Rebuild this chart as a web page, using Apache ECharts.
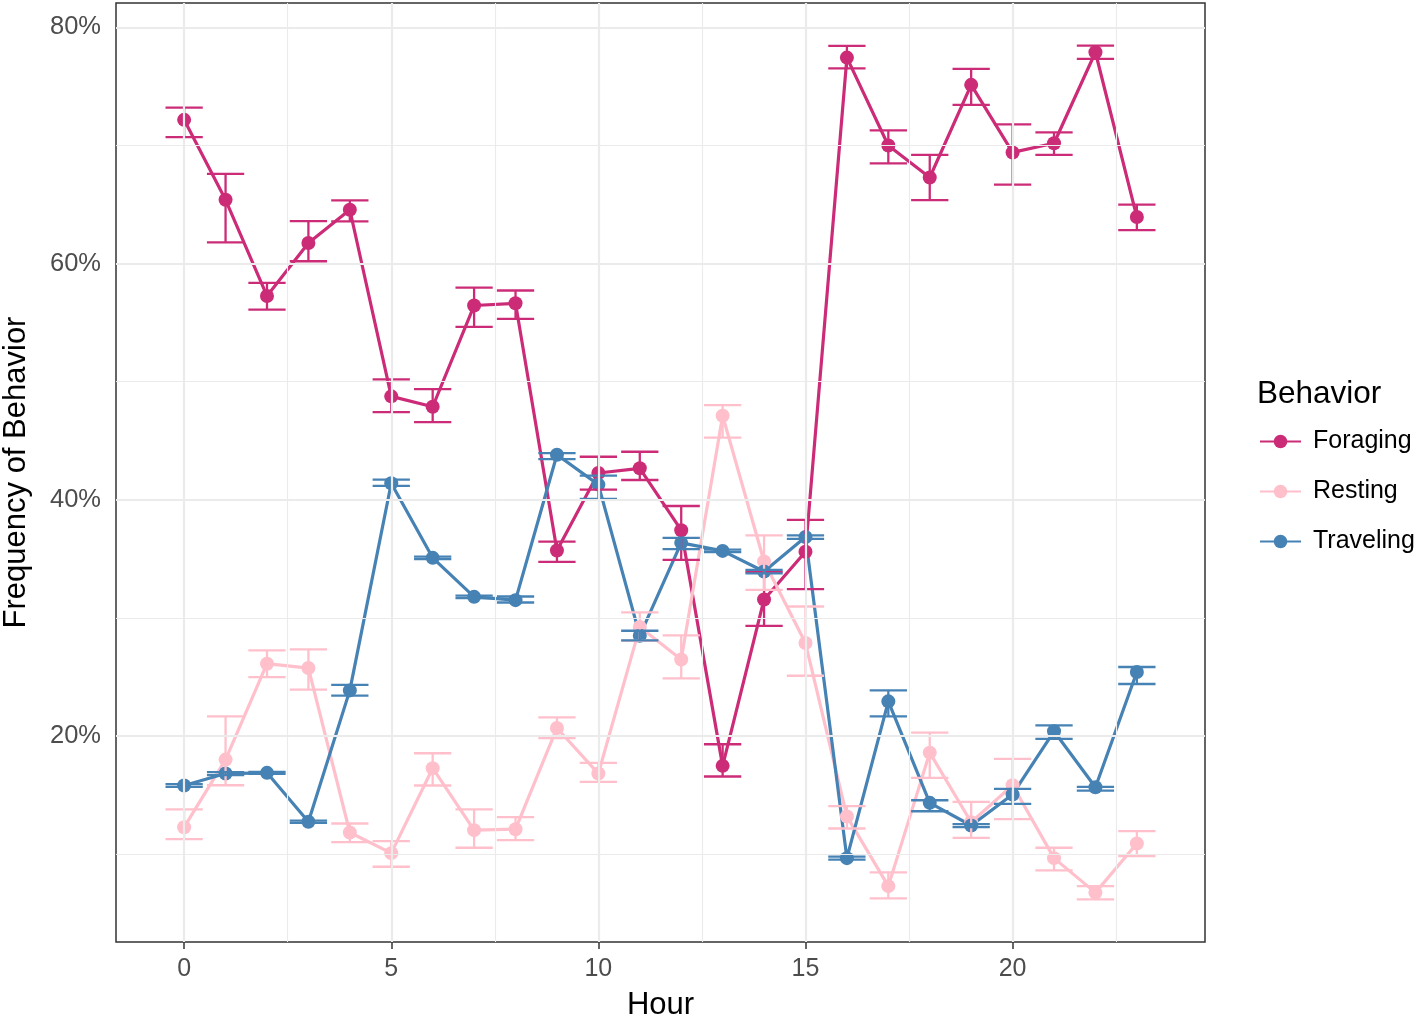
<!DOCTYPE html>
<html>
<head>
<meta charset="utf-8">
<script src="https://cdn.jsdelivr.net/npm/echarts@6/dist/echarts.min.js"></script>
<style>
html,body{margin:0;padding:0;background:#fff;}
#chart{width:1418px;height:1016px;}
</style>
</head>
<body>
<div id="chart"></div>
<script>
const hours = [0,1,2,3,4,5,6,7,8,9,10,11,12,13,14,15,16,17,18,19,20,21,22,23];

const foraging     = [72.17,65.40,57.26,61.74,64.56,48.76,47.88,56.45,56.64,35.71,42.27,42.67,37.43,17.48,31.57,35.60,77.44,70.00,67.29,75.13,69.41,70.19,77.89,63.94];
const foragingLow  = [70.70,61.80,56.10,60.20,63.57,47.43,46.58,54.64,55.32,34.75,40.86,41.68,34.92,16.58,29.33,32.44,76.53,68.48,65.38,73.44,66.68,69.21,77.33,62.84];
const foragingHigh = [73.20,67.60,58.36,63.60,65.35,50.19,49.37,57.97,57.72,36.47,43.65,44.07,39.48,19.31,33.90,38.30,78.43,71.27,69.21,76.48,71.78,71.10,78.45,64.99];

const resting      = [12.29,18.01,26.13,25.76,11.84,10.09,17.28,12.04,12.12,20.69,16.83,29.23,26.49,47.12,34.78,27.88,13.20,7.30,18.60,12.71,15.84,9.67,6.75,10.91];
const restingLow   = [11.28,15.84,25.00,23.93,11.02,8.94,15.82,10.55,11.19,19.84,16.13,28.07,24.89,45.26,32.38,25.11,12.18,6.26,16.47,11.39,12.97,8.63,6.18,9.84];
const restingHigh  = [13.79,21.67,27.25,27.34,12.60,11.11,18.55,13.79,13.14,21.59,17.73,30.47,28.52,48.02,37.00,30.97,14.07,8.46,20.30,14.44,18.07,10.55,7.30,11.95];

const traveling     = [15.82,16.83,16.89,12.75,23.87,41.40,35.09,31.79,31.51,43.82,41.29,28.50,36.36,35.68,33.93,36.86,9.67,22.94,14.35,12.43,15.06,20.41,15.67,25.43];
const travelingLow  = [15.70,16.70,16.80,12.65,23.42,41.18,34.98,31.68,31.31,43.45,40.08,28.10,35.82,35.57,33.78,36.70,9.55,21.67,13.64,12.30,14.27,19.76,15.39,24.41];
const travelingHigh = [15.94,16.95,16.98,12.85,24.33,41.71,35.20,31.90,31.82,43.96,42.05,28.92,36.78,35.79,34.08,37.00,9.79,23.87,14.57,12.55,15.54,20.91,15.70,25.85];

const behaviors = ['Foraging','Resting','Traveling'];
const colors = ['#CC2C77','#FFC0CB','#4682B4'];

const xTicks = [0,5,10,15,20];
const xMinor = [2.5,7.5,12.5,17.5,22.5];
const yTicks = [20,40,60,80];
const yMinor = [10,30,50,70];

const means = [foraging, resting, traveling];
const lows = [foragingLow, restingLow, travelingLow];
const highs = [foragingHigh, restingHigh, travelingHigh];

const lineSeries = behaviors.map((name,i)=>({
  name, type:'line', z:3,
  data: hours.map((h,j)=>[h, means[i][j]]),
  symbol:'circle', symbolSize:14, showSymbol:true,
  lineStyle:{color:colors[i], width:3.2},
  itemStyle:{color:colors[i], borderWidth:0},
  emphasis:{disabled:true},
  animation:false
}));

const errSeries = behaviors.map((name,i)=>({
  name, type:'custom', z:4,
  data: hours.map((h,j)=>[h, lows[i][j], highs[i][j]]),
  renderItem:function(params, api){
    const x = api.value(0), lo = api.value(1), hi = api.value(2);
    const pLo = api.coord([x, lo]);
    const pHi = api.coord([x, hi]);
    const hw = api.size([0.45, 0])[0];
    const st = {stroke:colors[i], lineWidth:2.3, fill:null};
    return {type:'group', children:[
      {type:'line', shape:{x1:pLo[0], y1:pLo[1], x2:pHi[0], y2:pHi[1]}, style:st},
      {type:'line', shape:{x1:pLo[0]-hw, y1:pLo[1], x2:pLo[0]+hw, y2:pLo[1]}, style:st},
      {type:'line', shape:{x1:pHi[0]-hw, y1:pHi[1], x2:pHi[0]+hw, y2:pHi[1]}, style:st}
    ]};
  },
  animation:false
}));

const gridSeries = {
  name:'grid', type:'line', z:1, silent:true,
  data:[[0,40],[1,40]], showSymbol:false, lineStyle:{opacity:0}, animation:false,
  markLine:{
    silent:true, symbol:['none','none'], label:{show:false}, animation:false,
    data:[
      ...xMinor.map(v=>({xAxis:v, lineStyle:{color:'#EBEBEB', width:1.1, type:'solid'}})),
      ...yMinor.map(v=>({yAxis:v, lineStyle:{color:'#EBEBEB', width:1.1, type:'solid'}})),
      ...xTicks.map(v=>({xAxis:v, lineStyle:{color:'#EBEBEB', width:2.2, type:'solid'}})),
      ...yTicks.map(v=>({yAxis:v, lineStyle:{color:'#EBEBEB', width:2.2, type:'solid'}}))
    ]
  }
};

const chart = echarts.init(document.getElementById('chart'), null, {renderer:'canvas'});
chart.setOption({
  backgroundColor:'#fff',
  animation:false,
  textStyle:{fontFamily:'Liberation Sans, Arial, sans-serif'},
  title:{text:'Behavior', left:1257, top:378, padding:0,
    textStyle:{fontSize:31.5, fontWeight:'normal', color:'#000', fontFamily:'Liberation Sans, Arial, sans-serif'}},
  legend:{
    data:behaviors, orient:'vertical', left:1259, top:429, itemGap:25,
    itemWidth:41, itemHeight:17, padding:0,
    textStyle:{fontSize:25, color:'#000', lineHeight:25, padding:[0,0,0,7], fontFamily:'Liberation Sans, Arial, sans-serif'},
    selectedMode:false
  },
  grid:{left:116, top:3, right:213, bottom:74, show:true, borderColor:'#333333', borderWidth:1.5, backgroundColor:'#fff', containLabel:false, outerBoundsMode:'none'},
  xAxis:{
    type:'value', min:-1.645, max:24.645,
    name:'Hour', nameLocation:'middle', nameGap:48,
    nameTextStyle:{fontSize:31, color:'#000'},
    axisLine:{show:false},
    axisTick:{show:true, length:7, lineStyle:{color:'#333333', width:1.5}, customValues:xTicks},
    axisLabel:{fontSize:25, color:'#4D4D4D', margin:15, customValues:xTicks},
    splitLine:{show:false}, minorSplitLine:{show:false}
  },
  yAxis:{
    type:'value', min:2.57, max:82.06,
    name:'Frequency of Behavior', nameLocation:'middle', nameGap:84,
    nameTextStyle:{fontSize:31, color:'#000'},
    axisLine:{show:false},
    axisTick:{show:true, length:7, lineStyle:{color:'#333333', width:1.5}, customValues:yTicks},
    axisLabel:{fontSize:25.5, color:'#4D4D4D', margin:15, customValues:yTicks, formatter:'{value}%'},
    splitLine:{show:false}, minorSplitLine:{show:false}
  },
  series:[gridSeries, ...lineSeries, ...errSeries]
});
</script>
</body>
</html>
